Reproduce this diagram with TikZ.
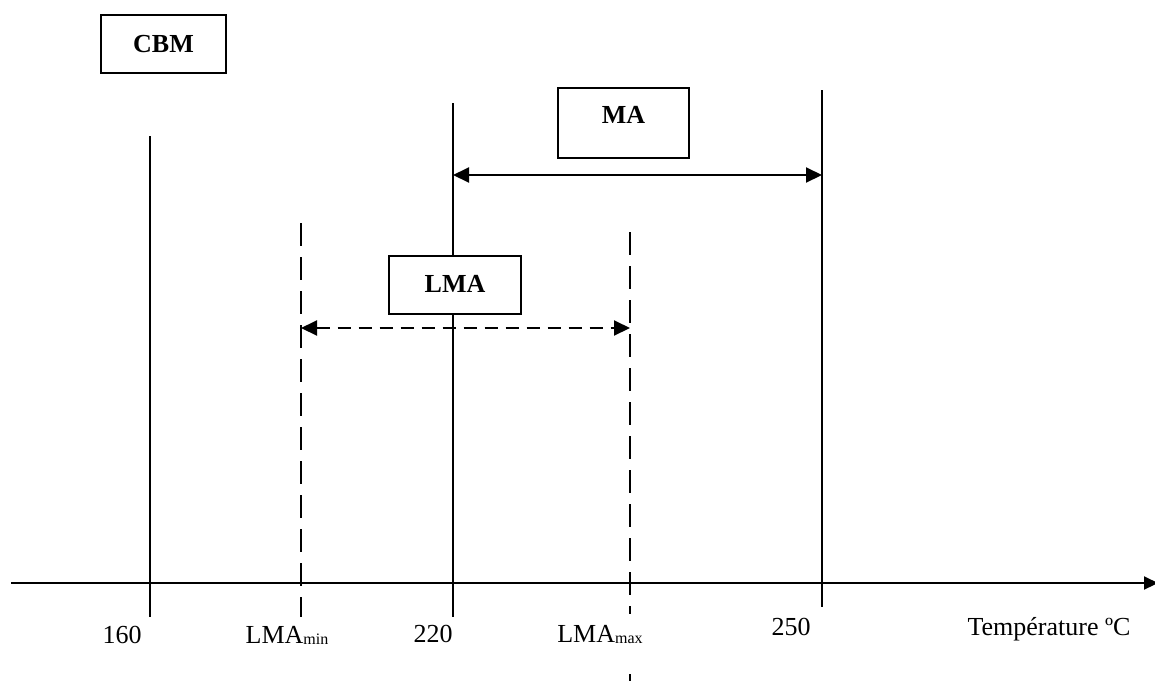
\documentclass[tikz,border=0pt]{standalone}
\usepackage{fontspec}
\setmainfont{Liberation Serif}
\usetikzlibrary{arrows.meta}
\newcommand{\indice}[1]{\raisebox{-0.5pt}{\fontsize{8}{9}\selectfont #1}}

\begin{document}
\begin{tikzpicture}[x=0.5pt, y=-0.5pt, font=\fontsize{13}{15}\selectfont,
    boite/.style={draw, line width=1pt, fill=white, inner sep=0pt, font=\fontsize{13}{15}\selectfont\bfseries, anchor=base},
    trait/.style={line width=0.8pt},
    tirets/.style={line width=1pt, dash pattern=on 11.5pt off 5.5pt},
    fleche/.style={{Triangle[length=8pt,width=7.5pt]}-{Triangle[length=8pt,width=7.5pt]}, line width=1pt},
    valeur/.style={anchor=base, inner sep=0pt}
]
    \useasboundingbox (0,0) rectangle (1155,681);

    % axe des temperatures
    \coordinate (axeg) at (11,583);
    \coordinate (axed) at (1158,583);
    \draw[line width=1pt, -{Triangle[length=7pt,width=6.5pt]}] (axeg) -- (axed);

    % reperes
    \coordinate (h160) at (150,136);  \coordinate (b160) at (150,617);
    \coordinate (h220) at (453,103);  \coordinate (b220) at (453,617);
    \coordinate (h250) at (822,90);   \coordinate (b250) at (822,607);
    \coordinate (hmin) at (301,223);  \coordinate (bmin) at (301,617);
    \coordinate (hmax) at (630,232);  \coordinate (bmax) at (630,681);
    \draw[trait] (h160) -- (b160);
    \draw[trait] (h220) -- (b220);
    \draw[trait] (h250) -- (b250);
    \draw[tirets] (hmin) -- (bmin);
    \draw[tirets] (hmax) -- (bmax);

    % intervalles
    \coordinate (mag) at (453,175);  \coordinate (mad) at (822,175);
    \coordinate (lmag) at (301,328); \coordinate (lmad) at (630,328);
    \draw[fleche] (mag) -- (mad);
    \draw[fleche, dash pattern=on 6.5pt off 4pt] (lmag) -- (lmad);

    \node[boite, minimum width=62.5pt, text height=18.5pt, text depth=10.5pt] (cbm) at (163.5,52) {CBM};
    \node[boite, minimum width=65.5pt, text height=17.5pt, text depth=17.5pt] (ma) at (623.5,123) {MA};
    \node[boite, minimum width=66pt, text height=18pt, text depth=11pt] (lma) at (455,292) {LMA};

    % valeurs sous l'axe
    \node[valeur] (t160) at (122,643) {160};
    \node[valeur] (tmin) at (287,643) {LMA\indice{min}};
    \node[valeur] (t220) at (433,642) {220};
    \node[valeur, fill=white, text height=14pt, text depth=16pt, inner xsep=2pt] (tmax) at (600,642) {LMA\indice{max}};
    \node[valeur] (t250) at (791,635) {250};
    \node[valeur] (temp) at (1049,635) {Température ºC};
\end{tikzpicture}
\end{document}
